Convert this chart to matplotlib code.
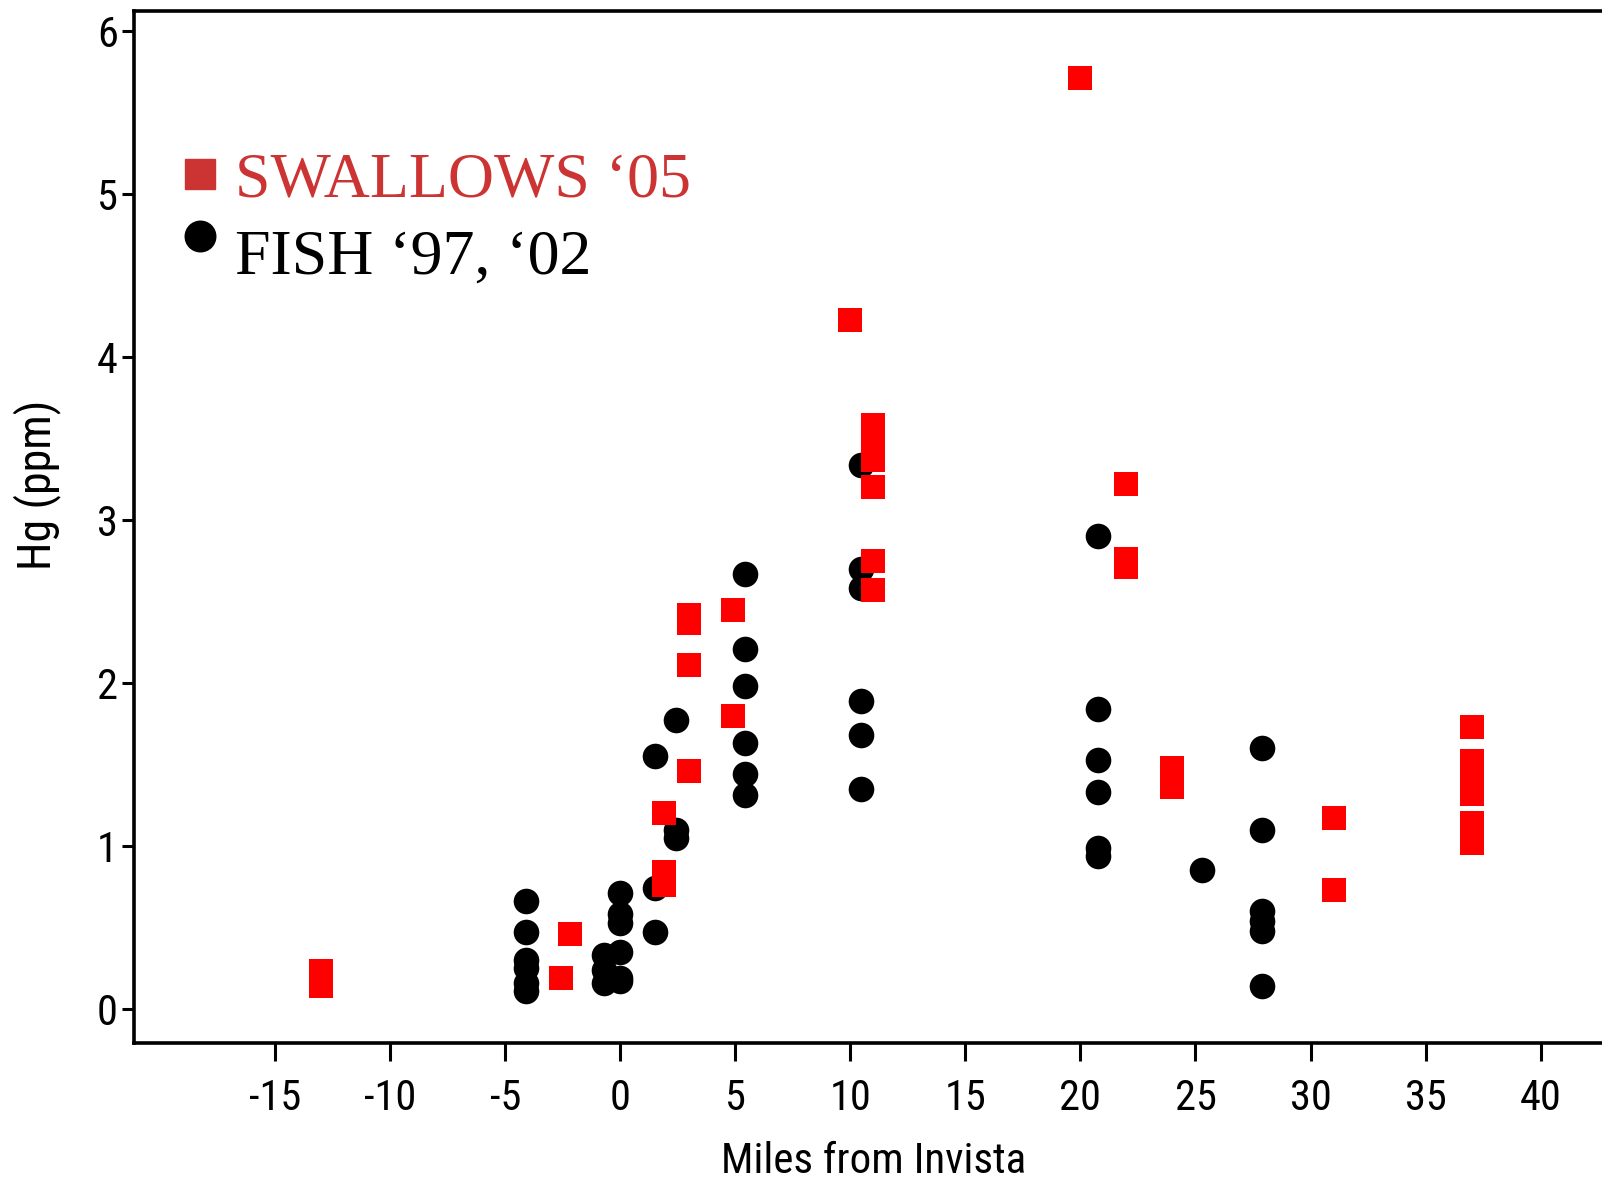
import matplotlib
matplotlib.use("Agg")
import numpy as np
import matplotlib.pyplot as plt
from matplotlib.lines import Line2D
from matplotlib.legend_handler import HandlerLine2D

SANS = ['Liberation Sans Narrow', 'Roboto Condensed', 'Roboto', 'DejaVu Sans']
SERIF = ['Liberation Serif', 'DejaVu Serif']

# ---- data ----
swallow_x = [-13, -13, -13, -2.6, -2.2, 1.9, 1.9, 1.9, 3.0, 3.0, 3.0, 3.0,
             4.9, 4.9, 10.0, 11.0, 11.0, 11.0, 11.0, 11.0, 11.0,
             20.0, 22.0, 22.0, 22.0, 24.0, 24.0, 24.0, 31.0, 31.0,
             37.0, 37.0, 37.0, 37.0, 37.0, 37.0, 37.0]
swallow_y = [0.23, 0.18, 0.14, 0.19, 0.46, 0.84, 0.76, 1.20, 1.46, 2.11, 2.42, 2.37,
             2.45, 1.80, 4.23, 3.58, 3.47, 3.37, 3.20, 2.75, 2.57,
             5.71, 3.22, 2.76, 2.71, 1.48, 1.42, 1.36, 1.17, 0.73,
             1.73, 1.52, 1.42, 1.32, 1.14, 1.08, 1.02]

fish_x = [-4.1, -4.1, -4.1, -4.1, -4.1, -4.1,
          -0.7, -0.7, -0.7,
          0.0, 0.0, 0.0, 0.0, 0.0, 0.0,
          1.5, 1.5, 1.5,
          2.4, 2.4, 2.4,
          5.4, 5.4, 5.4, 5.4, 5.4, 5.4,
          10.45, 10.45, 10.45, 10.45, 10.45, 10.45,
          20.75, 20.75, 20.75, 20.75, 20.75, 20.75,
          25.3,
          27.9, 27.9, 27.9, 27.9, 27.9, 27.9]
fish_y = [0.66, 0.47, 0.30, 0.25, 0.16, 0.11,
          0.33, 0.24, 0.16,
          0.71, 0.58, 0.53, 0.35, 0.19, 0.17,
          1.55, 0.74, 0.47,
          1.77, 1.10, 1.05,
          2.67, 2.21, 1.98, 1.63, 1.44, 1.31,
          3.34, 2.70, 2.58, 1.89, 1.68, 1.35,
          2.90, 1.84, 1.53, 1.33, 0.99, 0.94,
          0.85,
          1.60, 1.10, 0.60, 0.54, 0.48, 0.14]

xticks = [-15, -10, -5, 0, 5, 10, 15, 20, 25, 30, 35, 40]
yticks = [0, 1, 2, 3, 4, 5, 6]
legend_labels = ['SWALLOWS \u201805', 'FISH \u201897, \u201802']

W, H = 1602, 1179
fig = plt.figure(figsize=(W / 100, H / 100), dpi=100)
ax = fig.add_axes([134 / W, 136 / H, 1 - 134 / W, (1043 - 11) / H])

ax.scatter(fish_x, fish_y, s=340, marker='o', color='black', zorder=2, linewidths=0)
ax.scatter(swallow_x, swallow_y, s=280, marker='s', color='#FF0000', zorder=3, linewidths=0)

ax.set_xlim(-21.14, 42.67)
ax.set_ylim(-0.209, 6.123)
ax.set_xticks(xticks)
ax.set_yticks(yticks)
ax.set_xticklabels([str(t) for t in xticks], fontfamily=SANS, fontsize=30.5)
ax.set_yticklabels([str(t) for t in yticks], fontfamily=SANS, fontsize=30.5)
ax.tick_params(axis='x', length=13, width=2.2, pad=12)
ax.tick_params(axis='y', length=8.5, width=2.2, pad=3)
for side in ['left', 'top', 'bottom']:
    ax.spines[side].set_linewidth(2.6)
ax.spines['right'].set_visible(False)

ax.set_xlabel('Miles from Invista', fontfamily=SANS, fontsize=31)
ax.xaxis.set_label_coords(0.504, -0.095)
ax.set_ylabel('Hg (ppm)', fontfamily=SANS, fontsize=33)
ax.yaxis.set_label_coords(-0.050, 0.541)


def raise_circle(legend_line, orig_handle):
    legend_line.update_from(orig_handle)
    if orig_handle.get_marker() == 'o':
        legend_line.set_ydata(np.asarray(legend_line.get_ydata(), float) + 11)


handles = [Line2D([], [], marker='s', color='#CC3333', linestyle='none', markersize=22),
           Line2D([], [], marker='o', color='black', linestyle='none', markersize=22)]
leg = ax.legend(handles, legend_labels, loc='upper left', bbox_to_anchor=(0.030, 0.864),
                frameon=False, prop={'family': SERIF, 'size': 46},
                handlelength=0.7, handletextpad=0.19, labelspacing=0.3, borderpad=0,
                borderaxespad=0, labelcolor=['#CC3333', 'black'],
                handler_map={Line2D: HandlerLine2D(update_func=raise_circle)})

fig.savefig('out.png', dpi=100)
